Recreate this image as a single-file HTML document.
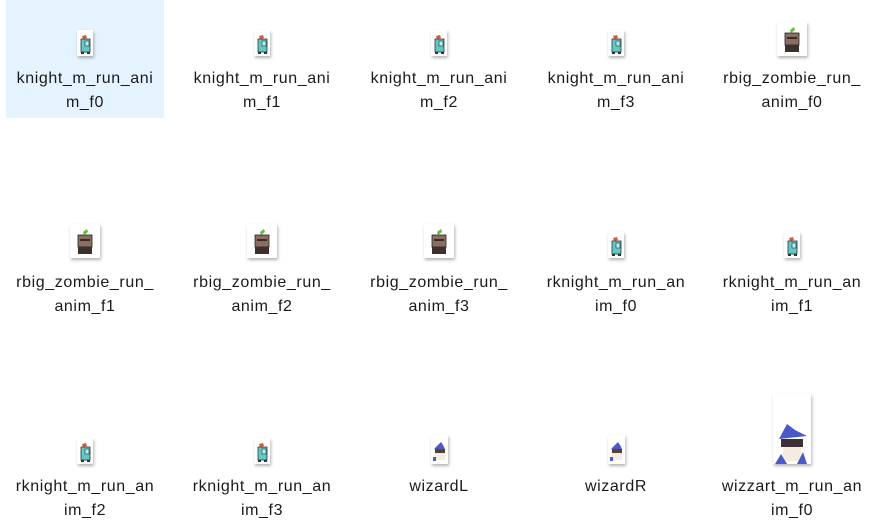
<!DOCTYPE html>
<html><head><meta charset="utf-8">
<style>
html,body{margin:0;padding:0;width:869px;height:513px;overflow:hidden;background:#fff;font-family:"Segoe UI","Liberation Sans",sans-serif;}
.cell{position:absolute;width:158px;height:118px;}
.sel{background:#e5f3ff;}
.lbl{position:absolute;left:-10px;width:178px;text-align:center;font-size:16px;letter-spacing:0.6px;line-height:24px;color:#1a1a1a;}
.thumb{position:absolute;background:#fff;box-shadow:1px 2px 3px rgba(0,0,0,0.3);}
.thumb svg{display:block;width:100%;height:100%;}
</style></head>
<body>
<div id="root"></div>
<script>
const names=[["knight_m_run_ani","m_f0","k"],["knight_m_run_ani","m_f1","k"],["knight_m_run_ani","m_f2","k"],["knight_m_run_ani","m_f3","k"],["rbig_zombie_run_","anim_f0","z"],
["rbig_zombie_run_","anim_f1","z"],["rbig_zombie_run_","anim_f2","z"],["rbig_zombie_run_","anim_f3","z"],["rknight_m_run_an","im_f0","k"],["rknight_m_run_an","im_f1","k"],
["rknight_m_run_an","im_f2","k"],["rknight_m_run_an","im_f3","k"],["wizardL","","w"],["wizardR","","w"],["wizzart_m_run_an","im_f0","W"]];
const centers=[85,262,439,616,792];
const svgs={
k:'<svg viewBox="0 0 16 26"><path d="M5 6 L9 5 L10 8 L6 9Z" fill="#e4572e"/><rect x="4" y="9" width="9" height="13" fill="#5fc8c8" stroke="#333" stroke-width="0.8"/><rect x="8" y="11" width="4" height="5" fill="#b8ecec" stroke="#333" stroke-width="0.6"/><rect x="4" y="22" width="3" height="2" fill="#333"/><rect x="10" y="22" width="3" height="2" fill="#333"/></svg>',
z:'<svg viewBox="0 0 30 34"><path d="M13 8 L17 5 L18 8 L14 11Z" fill="#5cbf3a"/><rect x="8" y="11" width="14" height="12" fill="#8a6e62" stroke="#222" stroke-width="0.8"/><rect x="10" y="15" width="10" height="2" fill="#3a2a26"/><rect x="8" y="23" width="14" height="7" fill="#3d2f2b"/></svg>',
w:'<svg viewBox="0 0 17 29"><path d="M3 14 L10 7 L12 10 L14 14Z" fill="#4a58c8"/><rect x="4" y="14" width="10" height="4" fill="#5a4030"/><rect x="4" y="18" width="10" height="7" fill="#f4ece0"/><rect x="2" y="22" width="3" height="4" fill="#4a58c8"/></svg>',
W:'<svg viewBox="0 0 38 70"><path d="M6 45 L14 30 L22 36 L34 42Z" fill="#4a58c8"/><rect x="8" y="45" width="22" height="8" fill="#3a3036"/><rect x="10" y="53" width="18" height="14" fill="#f4ece0"/><path d="M2 70 L8 60 L14 70Z" fill="#4a58c8"/><path d="M24 70 L30 58 L34 70Z" fill="#4a58c8"/></svg>'
};
const dims={k:[16,26],z:[30,34],w:[17,29],W:[38,70]};
const root=document.getElementById('root');
names.forEach((n,i)=>{
 const col=i%5,row=Math.floor(i/5);
 const c=document.createElement('div');
 c.className='cell'+(i===0?' sel':'');
 
 
 c.style.left=(centers[col]-79)+'px';c.style.top=(row*204)+'px';
 const d=dims[n[2]];
 const t=document.createElement('div');
 t.className='thumb';
 
 
 t.style.width=d[0]+'px';t.style.height=d[1]+'px';
 t.style.left=(79-d[0]/2)+'px';t.style.top=(56-d[1]-(row==1?2:0))+'px';
 t.innerHTML=svgs[n[2]];
 c.appendChild(t);
 const l=document.createElement('div');
 l.className='lbl';
 
 
 l.style.top='67px';
 l.innerHTML=n[0]+(n[1]?'<br>'+n[1]:'');
 c.appendChild(l);
 root.appendChild(c);
});
</script>
</body></html>
